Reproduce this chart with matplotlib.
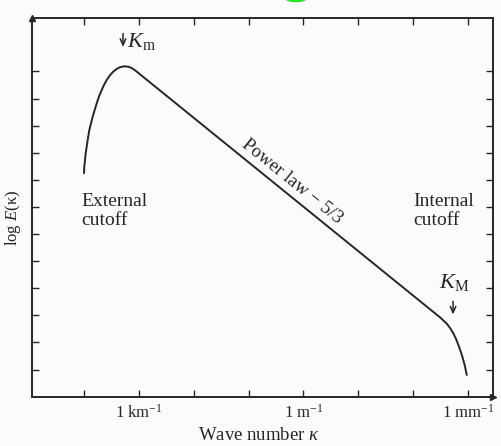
import matplotlib
matplotlib.use("Agg")
import matplotlib.pyplot as plt
from matplotlib.patches import Ellipse

# ---- data (log10 wave number in m^-1, log E in decades) ----
log_k = [-4.000, -3.995, -3.982, -3.969, -3.951, -3.933, -3.903, -3.872, -3.841,
         -3.805, -3.768, -3.727, -3.677, -3.635, -3.586, -3.526, -3.466, -3.404,
         -3.344, -3.271, -3.192, -3.131, -3.070, -2.997, -2.919, -2.797, -2.432,
         1.760, 2.125, 2.307, 2.489, 2.611, 2.672, 2.732, 2.781, 2.823, 2.863,
         2.896, 2.923, 2.945, 2.976]
log_E = [8.244, 8.487, 8.734, 8.982, 9.225, 9.472, 9.841, 10.089, 10.332,
         10.579, 10.827, 11.070, 11.317, 11.502, 11.686, 11.860, 11.993, 12.092,
         12.155, 12.188, 12.173, 12.122, 12.041, 11.923, 11.793, 11.594, 10.996,
         4.122, 3.524, 3.225, 2.926, 2.697, 2.535, 2.339, 2.129, 1.908, 1.686,
         1.476, 1.280, 1.107, 0.801]

x_ticks = [-4, -3, -2, -1, 0, 1, 2, 3]
x_tick_labels = ["", "1 km$^{-1}$", "", "", "1 m$^{-1}$", "", "", "1 mm$^{-1}$"]
y_ticks = list(range(1, 13))

plt.rcParams['font.family'] = ['Liberation Serif', 'DejaVu Serif']
plt.rcParams['mathtext.fontset'] = 'custom'
plt.rcParams['mathtext.rm'] = 'Liberation Serif'
plt.rcParams['mathtext.it'] = 'Liberation Serif:italic'

ink = '#262626'
bg = '#fbfbfb'

fig = plt.figure(figsize=(5.01, 4.46), dpi=100, facecolor=bg)
W, H = 501, 446
left, right, top, bottom = 32, 493.3, 18, 396.7
ax = fig.add_axes([left / W, 1 - bottom / H, (right - left) / W, (bottom - top) / H])
ax.set_facecolor(bg)

ax.plot(log_k, log_E, color=ink, lw=1.4, solid_capstyle='round', solid_joinstyle='round')

ax.set_xlim(-4.948, 3.46)
ax.set_ylim(0, 13.97)
ax.set_xticks(x_ticks)
ax.set_xticklabels(x_tick_labels, fontsize=12, color=ink)
ax.set_yticks(y_ticks)
ax.set_yticklabels([])
ax.tick_params(direction='in', length=5, width=1.0, color=ink,
               top=True, right=True, bottom=True, left=True, pad=5)
for s in ax.spines.values():
    s.set_color(ink)
    s.set_linewidth(1.4)

# axis arrowheads
ax.plot(1.0, 0.0, '>', ms=4, color=ink, transform=ax.transAxes, clip_on=False)
ax.plot(0.0, 1.0, '^', ms=4, color=ink, transform=ax.transAxes, clip_on=False)

# labels
fig.text(259 / W, 1 - 435 / H, "Wave number $\\it{\\kappa}$", fontsize=13.5, color=ink,
         ha='center', va='center')
fig.text(13 / W, 1 - 218 / H, "log $E$(κ)", rotation=90, fontsize=12,
         color=ink, ha='center', va='center')

# K_m marker
ax.annotate("", xy=(-3.289, 12.80), xytext=(-3.289, 13.50),
            arrowprops=dict(arrowstyle='->,head_length=0.45,head_width=0.2', color=ink, lw=1.1))
ax.text(-3.21, 13.09, "$K_{\\rm m}$", fontsize=16, color=ink, ha='left', va='center')

# K_M marker
ax.text(2.47, 4.23, "$K_{\\rm M}$", fontsize=16, color=ink, ha='left', va='center')
ax.annotate("", xy=(2.726, 2.93), xytext=(2.726, 3.62),
            arrowprops=dict(arrowstyle='->,head_length=0.45,head_width=0.2', color=ink, lw=1.1))

ax.text(-4.055, 6.85, "External\ncutoff", fontsize=14, color=ink, ha='left', va='center',
        linespacing=1.1)
ax.text(1.997, 6.85, "Internal\ncutoff", fontsize=14, color=ink, ha='left', va='center',
        linespacing=1.1)
ax.text(-0.209, 7.92, "Power law − 5/3", fontsize=13.5, color=ink, ha='center', va='center',
        rotation=-39, rotation_mode='anchor')

# small green mark at top edge
fig.patches.append(Ellipse((296 / W, 1 + 0.5 / H), 18 / W, 4 / H, color='#22e622',
                           transform=fig.transFigure, figure=fig))

fig.savefig("out.png", dpi=100, facecolor=bg)
